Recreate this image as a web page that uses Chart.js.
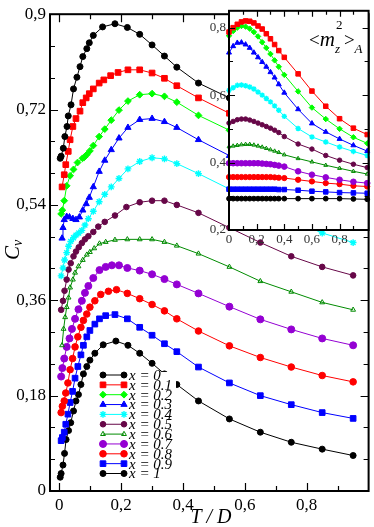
<!DOCTYPE html>
<html>
<head>
<meta charset="utf-8">
<script src="https://cdn.jsdelivr.net/npm/chart.js@4.4.1/dist/chart.umd.min.js"></script>
<style>
html, body { margin: 0; padding: 0; background: #fff; }
#wrap { position: relative; width: 374px; height: 527px; }
#main { position: absolute; left: 0; top: 0; }
#inset { position: absolute; left: 200px; top: 0; }
</style>
</head>
<body>
<div id="wrap">
<canvas id="main" width="374" height="527"></canvas>
<canvas id="inset" width="174" height="250"></canvas>
</div>
<script>
// ---- main panel: C_v vs T/D ----
const T_x00 = [0.003,0.006,0.013,0.018,0.025,0.029,0.038,0.046,0.057,0.067,0.076,0.089,0.097,0.11,0.14,0.18,0.22,0.26,0.30,0.34,0.38,0.45,0.55,0.65,0.75,0.85,0.95];
const Cv_x00 = [0.628,0.632,0.647,0.669,0.688,0.708,0.729,0.759,0.781,0.801,0.820,0.835,0.846,0.860,0.876,0.882,0.875,0.862,0.842,0.821,0.800,0.770,0.742,0.712,0.684,0.658,0.636];
const T_x01 = [0.009,0.016,0.021,0.029,0.035,0.044,0.054,0.067,0.076,0.087,0.097,0.11,0.129,0.144,0.166,0.19,0.222,0.26,0.30,0.34,0.38,0.45,0.55,0.65,0.75,0.85,0.95];
const Cv_x01 = [0.574,0.597,0.616,0.641,0.663,0.688,0.703,0.717,0.733,0.742,0.750,0.759,0.770,0.776,0.784,0.790,0.795,0.795,0.789,0.779,0.765,0.742,0.713,0.686,0.661,0.638,0.617];
const T_x02 = [0.006,0.010,0.016,0.024,0.035,0.046,0.059,0.075,0.081,0.089,0.099,0.11,0.129,0.147,0.168,0.193,0.222,0.26,0.30,0.34,0.38,0.45,0.55,0.65,0.75,0.85,0.95];
const Cv_x02 = [0.523,0.530,0.548,0.576,0.595,0.607,0.620,0.628,0.630,0.635,0.642,0.652,0.669,0.683,0.700,0.719,0.736,0.748,0.750,0.745,0.734,0.709,0.681,0.655,0.632,0.611,0.592];
const T_x03 = [0.009,0.012,0.016,0.024,0.033,0.044,0.054,0.065,0.076,0.087,0.097,0.11,0.129,0.147,0.168,0.193,0.222,0.26,0.30,0.34,0.38,0.45,0.55,0.65,0.75,0.85,0.95];
const Cv_x03 = [0.477,0.497,0.512,0.518,0.517,0.514,0.512,0.517,0.530,0.542,0.554,0.574,0.603,0.624,0.644,0.666,0.686,0.701,0.703,0.697,0.686,0.663,0.633,0.607,0.585,0.566,0.550];
const T_x04 = [0.006,0.012,0.017,0.024,0.030,0.037,0.046,0.054,0.063,0.073,0.083,0.094,0.11,0.129,0.147,0.168,0.193,0.222,0.26,0.30,0.34,0.38,0.45,0.55,0.65,0.75,0.85,0.95];
const Cv_x04 = [0.406,0.421,0.436,0.450,0.462,0.471,0.478,0.483,0.487,0.492,0.502,0.514,0.528,0.546,0.560,0.574,0.590,0.608,0.622,0.629,0.627,0.618,0.599,0.570,0.541,0.512,0.487,0.469];
const T_x05 = [0.006,0.012,0.017,0.024,0.030,0.037,0.046,0.054,0.063,0.073,0.083,0.094,0.11,0.126,0.147,0.18,0.217,0.26,0.30,0.34,0.38,0.45,0.55,0.65,0.75,0.85,0.95];
const Cv_x05 = [0.342,0.359,0.378,0.399,0.418,0.430,0.443,0.452,0.460,0.468,0.475,0.481,0.489,0.499,0.508,0.520,0.536,0.545,0.548,0.548,0.540,0.525,0.497,0.469,0.443,0.423,0.407];
const T_x06 = [0.009,0.014,0.019,0.024,0.030,0.035,0.044,0.051,0.062,0.076,0.089,0.099,0.113,0.13,0.15,0.18,0.22,0.26,0.30,0.34,0.38,0.45,0.55,0.65,0.75,0.85,0.95];
const Cv_x06 = [0.275,0.306,0.328,0.347,0.365,0.384,0.399,0.412,0.424,0.436,0.446,0.451,0.458,0.467,0.470,0.474,0.475,0.475,0.475,0.470,0.463,0.448,0.423,0.396,0.376,0.356,0.342];
const T_x07 = [0.006,0.010,0.016,0.024,0.033,0.041,0.051,0.062,0.073,0.083,0.094,0.11,0.13,0.15,0.17,0.193,0.22,0.26,0.30,0.34,0.38,0.45,0.55,0.65,0.75,0.85,0.95];
const Cv_x07 = [0.216,0.232,0.250,0.272,0.288,0.306,0.325,0.343,0.359,0.374,0.387,0.402,0.417,0.423,0.426,0.426,0.421,0.416,0.409,0.400,0.390,0.373,0.348,0.324,0.305,0.288,0.275];
const T_x08 = [0.006,0.010,0.016,0.021,0.028,0.035,0.043,0.051,0.060,0.070,0.078,0.089,0.099,0.115,0.134,0.159,0.185,0.22,0.26,0.30,0.34,0.38,0.45,0.55,0.65,0.75,0.85,0.95];
const Cv_x08 = [0.148,0.160,0.170,0.185,0.204,0.229,0.250,0.272,0.291,0.309,0.322,0.334,0.347,0.359,0.371,0.377,0.380,0.373,0.363,0.352,0.340,0.325,0.302,0.274,0.252,0.234,0.218,0.206];
const T_x09 = [0.006,0.010,0.016,0.021,0.028,0.035,0.043,0.051,0.060,0.070,0.078,0.089,0.099,0.115,0.13,0.15,0.18,0.22,0.26,0.30,0.34,0.38,0.45,0.55,0.65,0.75,0.85,0.95];
const Cv_x09 = [0.095,0.101,0.111,0.126,0.145,0.167,0.188,0.213,0.235,0.257,0.275,0.291,0.303,0.315,0.325,0.331,0.333,0.325,0.309,0.294,0.278,0.263,0.234,0.204,0.180,0.163,0.148,0.137];
const T_x10 = [0.003,0.006,0.012,0.017,0.022,0.030,0.037,0.046,0.054,0.062,0.070,0.078,0.089,0.099,0.115,0.142,0.183,0.222,0.26,0.30,0.34,0.38,0.45,0.55,0.65,0.75,0.85,0.95];
const Cv_x10 = [0.026,0.033,0.049,0.071,0.097,0.114,0.129,0.151,0.170,0.182,0.201,0.221,0.235,0.247,0.260,0.276,0.283,0.275,0.260,0.241,0.221,0.201,0.170,0.136,0.111,0.092,0.079,0.067];

// ---- inset: <m_z^2>_A vs T/D (no x = 0 curve) ----
const T_in = [0,0.03,0.06,0.09,0.12,0.15,0.18,0.21,0.24,0.27,0.30,0.33,0.36,0.40,0.50,0.60,0.70,0.80,0.90,1.0];
const m2_x01 = [0.787,0.800,0.810,0.817,0.820,0.819,0.814,0.805,0.796,0.782,0.767,0.750,0.732,0.712,0.663,0.612,0.567,0.530,0.502,0.483];
const m2_x02 = [0.776,0.790,0.800,0.805,0.803,0.797,0.787,0.774,0.757,0.740,0.722,0.703,0.684,0.660,0.611,0.563,0.529,0.500,0.475,0.457];
const m2_x03 = [0.726,0.745,0.755,0.756,0.750,0.740,0.726,0.712,0.698,0.684,0.668,0.652,0.632,0.607,0.558,0.516,0.491,0.470,0.451,0.434];
const m2_x04 = [0.614,0.622,0.629,0.630,0.628,0.624,0.618,0.609,0.600,0.590,0.580,0.568,0.555,0.537,0.501,0.476,0.461,0.446,0.433,0.421];
const m2_x05 = [0.517,0.522,0.527,0.529,0.529,0.526,0.522,0.517,0.512,0.507,0.502,0.496,0.489,0.477,0.455,0.440,0.421,0.407,0.395,0.385];
const m2_x06 = [0.447,0.449,0.451,0.453,0.454,0.454,0.452,0.449,0.446,0.442,0.438,0.434,0.430,0.423,0.412,0.402,0.392,0.383,0.374,0.366];
const m2_x07 = [0.398,0.398,0.398,0.398,0.398,0.398,0.398,0.398,0.397,0.396,0.395,0.393,0.391,0.388,0.374,0.364,0.356,0.349,0.343,0.339];
const m2_x08 = [0.357,0.357,0.357,0.357,0.357,0.357,0.357,0.357,0.357,0.357,0.357,0.356,0.355,0.354,0.349,0.344,0.339,0.336,0.331,0.329];
const m2_x09 = [0.321,0.321,0.321,0.321,0.321,0.321,0.321,0.321,0.321,0.321,0.321,0.321,0.320,0.320,0.318,0.315,0.313,0.311,0.310,0.309];
const m2_x10 = [0.293,0.293,0.293,0.293,0.293,0.293,0.293,0.293,0.293,0.293,0.293,0.293,0.293,0.293,0.293,0.293,0.293,0.293,0.292,0.291];

const seriesNames = ['x = 0','x = 0.1','x = 0.2','x = 0.3','x = 0.4','x = 0.5','x = 0.6','x = 0.7','x = 0.8','x = 0.9','x = 1'];

// styles (xmgrace palette)
const colors = ['#000000','#ff0000','#00ff00','#0000ff','#00ffff','#670748','#008b00','#9400d3','#ff0000','#0000ff','#000000'];
const markers = ['circle','rect','rectRot','triangle','star','circle','triangle','circle','circle','rect','circle'];
const markerR = [3,4,3.4,3.6,3.4,2.8,2.8,3.5,3.3,4,3];
const hollow = [false,false,false,false,false,false,true,false,false,false,false];

const mainT = [T_x00,T_x01,T_x02,T_x03,T_x04,T_x05,T_x06,T_x07,T_x08,T_x09,T_x10];
const mainCv = [Cv_x00,Cv_x01,Cv_x02,Cv_x03,Cv_x04,Cv_x05,Cv_x06,Cv_x07,Cv_x08,Cv_x09,Cv_x10];
const insetM2 = [null,m2_x01,m2_x02,m2_x03,m2_x04,m2_x05,m2_x06,m2_x07,m2_x08,m2_x09,m2_x10];

const serif = '"Liberation Serif", "Times New Roman", serif';
const comma = n => String(n).replace('.', ',');

function makeSet(i, T, Y, scale) {
  return {
    label: seriesNames[i],
    data: T.map((t, k) => ({ x: t, y: Y[k] })),
    borderColor: colors[i],
    backgroundColor: colors[i],
    borderWidth: 1,
    pointStyle: markers[i],
    pointRadius: markerR[i] * scale,
    pointBorderWidth: markers[i] === 'star' ? 1.4 : 1,
    pointBackgroundColor: hollow[i] ? 'rgba(0,0,0,0)' : colors[i],
    pointBorderColor: colors[i],
    tension: 0,
    clip: false
  };
}

function drawFrameTicks(chart, major, minor, lw) {
  const { ctx, chartArea: a, scales } = chart;
  ctx.save();
  ctx.strokeStyle = '#000';
  ctx.lineWidth = 1.2;
  ctx.beginPath();
  scales.x.ticks.forEach(t => {
    const px = Math.round(scales.x.getPixelForValue(t.value)) + 0.5;
    if (px < a.left + 2 || px > a.right - 2) return;
    const L = t.label ? major : minor;
    ctx.moveTo(px, a.bottom); ctx.lineTo(px, a.bottom - L);
    ctx.moveTo(px, a.top); ctx.lineTo(px, a.top + L);
  });
  scales.y.ticks.forEach(t => {
    const py = Math.round(scales.y.getPixelForValue(t.value)) + 0.5;
    if (py < a.top + 2 || py > a.bottom - 2) return;
    const L = t.label ? major : minor;
    ctx.moveTo(a.left, py); ctx.lineTo(a.left + L, py);
    ctx.moveTo(a.right, py); ctx.lineTo(a.right - L, py);
  });
  ctx.stroke();
  ctx.lineWidth = lw;
  ctx.strokeRect(a.left, a.top, a.right - a.left, a.bottom - a.top);
  ctx.restore();
}

function marker(ctx, i, x, y, r) {
  ctx.fillStyle = hollow[i] ? 'rgba(0,0,0,0)' : colors[i];
  ctx.strokeStyle = colors[i];
  ctx.lineWidth = markers[i] === 'star' ? 1.4 : 1;
  if (Chart.helpers && Chart.helpers.drawPoint) {
    Chart.helpers.drawPoint(ctx, { pointStyle: markers[i], radius: r, rotation: 0, borderWidth: ctx.lineWidth }, x, y);
  } else {
    ctx.beginPath(); ctx.arc(x, y, r, 0, Math.PI * 2); ctx.fill(); ctx.stroke();
  }
}

const mainDecor = {
  id: 'mainDecor',
  afterDatasetsDraw(chart) {
    const ctx = chart.ctx;
    // legend box
    ctx.save();
    ctx.fillStyle = '#fff';
    ctx.fillRect(99, 372, 77, 108);
    seriesNames.forEach((name, i) => {
      const y = 375 + i * 9.85;
      ctx.strokeStyle = colors[i];
      ctx.lineWidth = 1;
      ctx.beginPath(); ctx.moveTo(103, y); ctx.lineTo(124, y); ctx.stroke();
      marker(ctx, i, 103, y, markerR[i]);
      marker(ctx, i, 124, y, markerR[i]);
      ctx.fillStyle = '#000';
      ctx.font = 'italic 15px ' + serif;
      ctx.textAlign = 'left';
      ctx.textBaseline = 'middle';
      ctx.fillText(name, 129, y + 1);
    });
    ctx.restore();

    drawFrameTicks(chart, 8, 5, 2);

    // axis titles
    ctx.save();
    ctx.fillStyle = '#000';
    ctx.font = 'italic 20px ' + serif;
    ctx.textAlign = 'center';
    ctx.textBaseline = 'alphabetic';
    ctx.fillText('T / D', 211, 523);
    ctx.translate(19, 250);
    ctx.rotate(-Math.PI / 2);
    ctx.textAlign = 'left';
    ctx.font = 'italic 21px ' + serif;
    const w = ctx.measureText('C').width;
    ctx.fillText('C', -10, 0);
    ctx.font = 'italic 14px ' + serif;
    ctx.fillText('v', -10 + w, 3);
    ctx.restore();
  }
};

new Chart(document.getElementById('main'), {
  type: 'line',
  data: { datasets: mainT.map((T, i) => makeSet(i, T, mainCv[i], 1)) },
  options: {
    responsive: false,
    animation: false,
    devicePixelRatio: 1,
    layout: { padding: { left: 0, right: 2, top: 7, bottom: 0 } },
    plugins: { legend: { display: false }, tooltip: { enabled: false } },
    scales: {
      x: {
        type: 'linear', min: -0.03, max: 1.0,
        grid: { display: false, drawTicks: false },
        border: { display: false },
        ticks: {
          stepSize: 0.1, includeBounds: false, autoSkip: false, maxRotation: 0, padding: 4,
          color: '#000', font: { family: serif, size: 17 },
          callback: v => { const k = Math.round(v * 10); return (k >= 0 && k <= 8 && k % 2 === 0) ? comma(k / 10) : ''; }
        },
        afterFit: s => { s.height = 36; }
      },
      y: {
        type: 'linear', min: 0, max: 0.9,
        grid: { display: false, drawTicks: false },
        border: { display: false },
        ticks: {
          stepSize: 0.06, autoSkip: false, padding: 4,
          color: '#000', font: { family: serif, size: 17 },
          callback: v => { const k = Math.round(v / 0.06); return k % 3 === 0 ? comma(+(k * 0.06).toFixed(2)) : ''; }
        },
        afterFit: s => { s.width = 50; }
      }
    }
  },
  plugins: [mainDecor]
});

const insetDecor = {
  id: 'insetDecor',
  beforeDraw(chart) {
    const { ctx, chartArea: a } = chart;
    ctx.save();
    ctx.fillStyle = '#fff';
    ctx.fillRect(a.left, a.top, a.right - a.left, a.bottom - a.top);
    ctx.restore();
  },
  afterDatasetsDraw(chart) {
    drawFrameTicks(chart, 6, 4, 2);
    const ctx = chart.ctx;
    ctx.save();
    ctx.fillStyle = '#000';
    ctx.textBaseline = 'alphabetic';
    ctx.textAlign = 'left';
    let x = 109;
    ctx.font = '19px ' + serif;
    ctx.fillText('<', x, 46);
    x += ctx.measureText('<').width;
    ctx.font = 'italic 21px ' + serif;
    ctx.fillText('m', x, 46);
    x += ctx.measureText('m').width;
    ctx.font = '13px ' + serif;
    ctx.fillText('2', x + 1, 29);
    ctx.font = 'italic 13px ' + serif;
    ctx.fillText('z', x, 53);
    x += 9;
    ctx.font = '19px ' + serif;
    ctx.fillText('>', x, 46);
    x += ctx.measureText('>').width;
    ctx.font = 'italic 13px ' + serif;
    ctx.fillText('A', x, 53);
    ctx.restore();
  }
};

const insetSets = [];
for (let i = 1; i < insetM2.length; i++) insetSets.push(makeSet(i, T_in, insetM2[i], 0.8));

new Chart(document.getElementById('inset'), {
  type: 'line',
  data: { datasets: insetSets },
  options: {
    responsive: false,
    animation: false,
    devicePixelRatio: 1,
    layout: { padding: { left: 0, right: 2, top: 7, bottom: 0 } },
    plugins: { legend: { display: false }, tooltip: { enabled: false } },
    scales: {
      x: {
        type: 'linear', min: 0, max: 1.01,
        grid: { display: false, drawTicks: false },
        border: { display: false },
        ticks: {
          stepSize: 0.1, includeBounds: false, autoSkip: false, maxRotation: 0, padding: 2,
          color: '#333', font: { family: serif, size: 13 },
          callback: v => { const k = Math.round(v * 10); return (k >= 0 && k <= 8 && k % 2 === 0) ? comma(k / 10) : ''; }
        },
        afterFit: s => { s.height = 20; }
      },
      y: {
        type: 'linear', min: 0.2, max: 0.85,
        grid: { display: false, drawTicks: false },
        border: { display: false },
        ticks: {
          stepSize: 0.1, includeBounds: false, autoSkip: false, padding: 3,
          color: '#333', font: { family: serif, size: 13 },
          callback: v => { const k = Math.round(v * 10); return k % 2 === 0 ? comma(k / 10) : ''; }
        },
        afterFit: s => { s.width = 29; }
      }
    }
  },
  plugins: [insetDecor]
});
</script>
</body>
</html>
